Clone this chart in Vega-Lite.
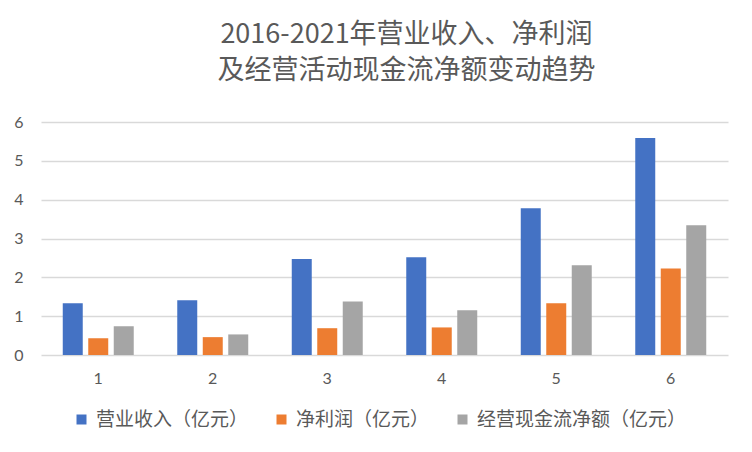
{
  "$schema": "https://vega.github.io/schema/vega-lite/v6.json",
  "autosize": {"type": "none"},
  "width": 687,
  "height": 233,
  "padding": {"left": 41, "top": 122, "right": 24, "bottom": 97},
  "background": "white",
  "title": {
    "text": ["2016-2021年营业收入、净利润", "及经营活动现金流净额变动趋势"],
    "anchor": "middle",
    "frame": "group",
    "dx": 22,
    "offset": 29,
    "font": "Noto Sans CJK SC",
    "fontSize": 27,
    "fontWeight": "normal",
    "color": "#595959",
    "lineHeight": 36
  },
  "data": {
    "values": [
      {"g": "1", "s": "营业收入（亿元）", "v": 1.33},
      {"g": "1", "s": "净利润（亿元）", "v": 0.43},
      {"g": "1", "s": "经营现金流净额（亿元）", "v": 0.74},
      {"g": "2", "s": "营业收入（亿元）", "v": 1.41},
      {"g": "2", "s": "净利润（亿元）", "v": 0.46},
      {"g": "2", "s": "经营现金流净额（亿元）", "v": 0.53},
      {"g": "3", "s": "营业收入（亿元）", "v": 2.47},
      {"g": "3", "s": "净利润（亿元）", "v": 0.69},
      {"g": "3", "s": "经营现金流净额（亿元）", "v": 1.38},
      {"g": "4", "s": "营业收入（亿元）", "v": 2.52},
      {"g": "4", "s": "净利润（亿元）", "v": 0.71},
      {"g": "4", "s": "经营现金流净额（亿元）", "v": 1.15},
      {"g": "5", "s": "营业收入（亿元）", "v": 3.78},
      {"g": "5", "s": "净利润（亿元）", "v": 1.33},
      {"g": "5", "s": "经营现金流净额（亿元）", "v": 2.31},
      {"g": "6", "s": "营业收入（亿元）", "v": 5.59},
      {"g": "6", "s": "净利润（亿元）", "v": 2.23},
      {"g": "6", "s": "经营现金流净额（亿元）", "v": 3.34}
    ]
  },
  "mark": {"type": "bar"},
  "encoding": {
    "x": {
      "field": "g",
      "type": "nominal",
      "scale": {"paddingInner": 0.38, "paddingOuter": 0.19},
      "axis": {
        "title": null,
        "labelAngle": 0,
        "domain": false,
        "ticks": false,
        "labelPadding": 15,
        "labelFont": "Lato",
        "labelFontSize": 16,
        "labelColor": "#595959"
      }
    },
    "xOffset": {
      "field": "s",
      "type": "nominal",
      "sort": ["营业收入（亿元）", "净利润（亿元）", "经营现金流净额（亿元）"],
      "scale": {"paddingInner": 0.216, "paddingOuter": 0}
    },
    "y": {
      "field": "v",
      "type": "quantitative",
      "scale": {"domain": [0, 6], "nice": false},
      "axis": {
        "title": null,
        "values": [0, 1, 2, 3, 4, 5, 6],
        "labelOverlap": false,
        "domain": false,
        "ticks": false,
        "labelPadding": 18,
        "labelFont": "Lato",
        "labelFontSize": 16,
        "labelColor": "#595959",
        "gridColor": "#d9d9d9",
        "gridWidth": 1.3
      }
    },
    "color": {
      "field": "s",
      "type": "nominal",
      "sort": ["营业收入（亿元）", "净利润（亿元）", "经营现金流净额（亿元）"],
      "scale": {
        "domain": ["营业收入（亿元）", "净利润（亿元）", "经营现金流净额（亿元）"],
        "range": ["#4472C4", "#ED7D31", "#A5A5A5"]
      },
      "legend": {
        "title": null,
        "orient": "none",
        "direction": "horizontal",
        "legendX": 31,
        "legendY": 288,
        "gridAlign": "none",
        "symbolType": "square",
        "symbolSize": 100,
        "symbolStrokeWidth": 0,
        "labelFont": "Noto Sans CJK SC",
        "labelFontSize": 19,
        "labelColor": "#595959",
        "labelOffset": 5,
        "columnPadding": 23,
        "labelLimit": 400
      }
    }
  },
  "config": {
    "view": {"stroke": null}
  }
}
